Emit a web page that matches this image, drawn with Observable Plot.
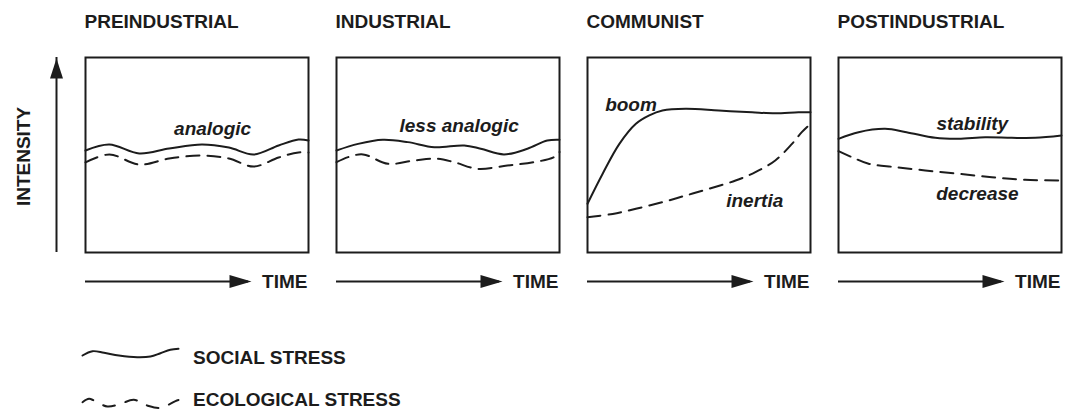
<!DOCTYPE html>
<html><head><meta charset="utf-8">
<script src="https://cdn.jsdelivr.net/npm/d3@7"></script>
<script src="https://cdn.jsdelivr.net/npm/@observablehq/plot@0.6"></script>
<style>
html,body{margin:0;padding:0;background:#fff;}
body{width:1065px;height:409px;position:relative;overflow:hidden;font-family:"Liberation Sans",Arial,Helvetica,sans-serif;color:#1c1c1c;}
#chart{position:absolute;left:0;top:0;}
.leg{position:absolute;}
.legtext{position:absolute;font-weight:bold;font-size:19px;line-height:22px;white-space:nowrap;}
</style></head><body>
<div id="chart"></div>
<div id="leg1" class="leg" style="left:80px;top:343px"></div>
<div id="leg2" class="leg" style="left:80px;top:390px"></div>
<div class="legtext" style="left:193px;top:347px">SOCIAL STRESS</div>
<div class="legtext" style="left:193px;top:389px">ECOLOGICAL STRESS</div>
<script>
const panels = ["PREINDUSTRIAL", "INDUSTRIAL", "COMMUNIST", "POSTINDUSTRIAL"];
const seriesNames = ["SOCIAL STRESS", "ECOLOGICAL STRESS"];

// [time, intensity] (0-100 in each panel)
const socialPre = [[0,52.3],[10.7,55.4],[24.1,50.8],[37.5,53.3],[52.2,55.4],[64.3,53.8],[75.4,50.3],[86.6,54.9],[95.5,57.9],[100,57.4]];
const ecoPre = [[0,46.2],[10.7,50.3],[24.1,45.1],[37.5,48.2],[52.2,49.7],[64.3,48.2],[75.4,44.1],[86.6,48.7],[95.5,51.3],[100,51.3]];
const socialInd = [[0,52.3],[9.7,55.7],[20.8,57.8],[32,56.6],[43.9,54],[57.3,54.9],[64.7,53.2],[75.1,50.3],[85.6,53.2],[94.5,57.4],[100,57.8]];
const ecoInd = [[0,46.3],[5.2,48.9],[11.9,50.3],[23.1,45.5],[35,47.2],[45.4,48.1],[52.8,46.3],[63.3,42.9],[76.6,44.6],[88.5,46.3],[97.5,48.9],[100,51.5]];
const socialCom = [[0,25],[6.8,40.4],[14.3,55.7],[21.7,66],[27.7,70.3],[33.6,72.8],[44,73.7],[58.9,72.8],[73.8,71.9],[84.2,71.4],[94.6,71.9],[100,71.9]];
const ecoCom = [[0,18.1],[11.3,19.8],[21.7,22.4],[33.6,25.8],[44,29.2],[54.5,32.7],[66.4,36.9],[75.3,41.2],[84.2,47.2],[91.7,55.7],[96.1,61.7],[100,66]];
const socialPost = [[0,58.3],[9,61.7],[20.9,63.4],[30.5,61.7],[43.4,58.8],[53.8,58.3],[65.8,59.1],[77.7,58.8],[88.2,58.8],[100,60]];
const ecoPost = [[0,52],[6,48.9],[13.5,45.5],[25.4,43.8],[38.9,42.1],[53.8,40.4],[68.8,38.6],[83.7,37.3],[100,36.9]];

const labelPanel = ["PREINDUSTRIAL", "INDUSTRIAL", "COMMUNIST", "COMMUNIST", "POSTINDUSTRIAL", "POSTINDUSTRIAL"];
const labelText = ["analogic", "less analogic", "boom", "inertia", "stability", "decrease"];
const labelT = [57, 55, 19.5, 75, 60, 62.3];
const labelV = [63.6, 65.1, 75.9, 26.7, 66.2, 30.3];

// legend samples
const legSocial = [[0,8],[10.4,12.3],[22.4,10.7],[37.9,8],[57,6.3],[70.8,7],[81.2,10.3],[91.5,13.7],[100,14.7]];
const legEco = [[0,8.3],[6.8,11.7],[12,10],[25.9,4],[39.6,6.7],[53.4,10.7],[67.3,5],[80.7,2.7],[98.3,10],[100,10.5]];

const rows = [];
function add(panel, series, pts) { for (const [t, v] of pts) rows.push({panel, series, t, v}); }
add(panels[0], seriesNames[0], socialPre); add(panels[0], seriesNames[1], ecoPre);
add(panels[1], seriesNames[0], socialInd); add(panels[1], seriesNames[1], ecoInd);
add(panels[2], seriesNames[0], socialCom); add(panels[2], seriesNames[1], ecoCom);
add(panels[3], seriesNames[0], socialPost); add(panels[3], seriesNames[1], ecoPost);
const labels = labelText.map((text, i) => ({panel: labelPanel[i], text, t: labelT[i], v: labelV[i]}));

const ink = "#1c1c1c";
const font = '"Liberation Sans", Arial, Helvetica, sans-serif';
const arrowRight = {draw(ctx) { ctx.moveTo(0, 0); ctx.lineTo(-22, -6.5); ctx.lineTo(-22, 6.5); ctx.closePath(); }};
const arrowUp = {draw(ctx) { ctx.moveTo(0, 0); ctx.lineTo(-6.5, 20); ctx.lineTo(6.5, 20); ctx.closePath(); }};

const chart = Plot.plot({
  width: 1065, height: 300,
  marginLeft: 83, marginRight: 2, marginTop: 57, marginBottom: 48,
  style: {fontFamily: font, background: "white", color: ink, overflow: "visible"},
  fx: {domain: panels, paddingInner: 0.111, paddingOuter: 0, axis: null, label: null},
  x: {domain: [0, 100], axis: null},
  y: {domain: [0, 100], axis: null},
  marks: [
    Plot.frame({stroke: ink, strokeWidth: 2}),
    Plot.line(rows.filter(d => d.series === seriesNames[0]), {fx: "panel", x: "t", y: "v", z: "panel", curve: "catmull-rom", stroke: ink, strokeWidth: 2}),
    Plot.line(rows.filter(d => d.series === seriesNames[1]), {fx: "panel", x: "t", y: "v", z: "panel", curve: "catmull-rom", stroke: ink, strokeWidth: 2, strokeDasharray: "13,8"}),
    Plot.text(labels, {fx: "panel", x: "t", y: "v", text: "text", fontStyle: "italic", fontWeight: "bold", fontSize: 19, fill: ink}),
    Plot.text(panels, {fx: d => d, text: d => d, frameAnchor: "top-left", textAnchor: "start", lineAnchor: "middle", dy: -35.5, dx: -1, fontWeight: "bold", fontSize: 19, fill: ink}),
    Plot.ruleY([0], {dy: 29, insetRight: 60, stroke: ink, strokeWidth: 2}),
    Plot.dot([0], {frameAnchor: "bottom-right", dx: -57, dy: 29, symbol: arrowRight, fill: ink, stroke: "none"}),
    Plot.text(["TIME"], {frameAnchor: "bottom-right", textAnchor: "end", lineAnchor: "middle", dy: 29, dx: -1, fontWeight: "bold", fontSize: 19, fill: ink}),
    Plot.ruleX([panels[0]], {fx: d => d, x: () => 0, dx: -29, stroke: ink, strokeWidth: 2}),
    Plot.dot([panels[0]], {fx: d => d, frameAnchor: "top-left", dx: -29, dy: 1, symbol: arrowUp, fill: ink, stroke: "none"}),
    Plot.text([panels[0]], {fx: d => d, text: () => "INTENSITY", frameAnchor: "left", textAnchor: "middle", lineAnchor: "middle", rotate: -90, dx: -62, dy: 1.5, fontWeight: "bold", fontSize: 19, fill: ink})
  ]
});
document.getElementById("chart").append(chart);

function legendPlot(pts, dash) {
  return Plot.plot({
    width: 100, height: 20, marginTop: 0, marginBottom: 0, marginLeft: 2, marginRight: 2,
    x: {domain: [0, 100], axis: null}, y: {domain: [0, 20], axis: null},
    style: {overflow: "visible", background: "transparent"},
    marks: [Plot.line(pts, {x: d => d[0], y: d => d[1], curve: "catmull-rom", stroke: ink, strokeWidth: 2, strokeDasharray: dash})]
  });
}
document.getElementById("leg1").append(legendPlot(legSocial, null));
document.getElementById("leg2").append(legendPlot(legEco, "12,11"));
</script></body></html>
